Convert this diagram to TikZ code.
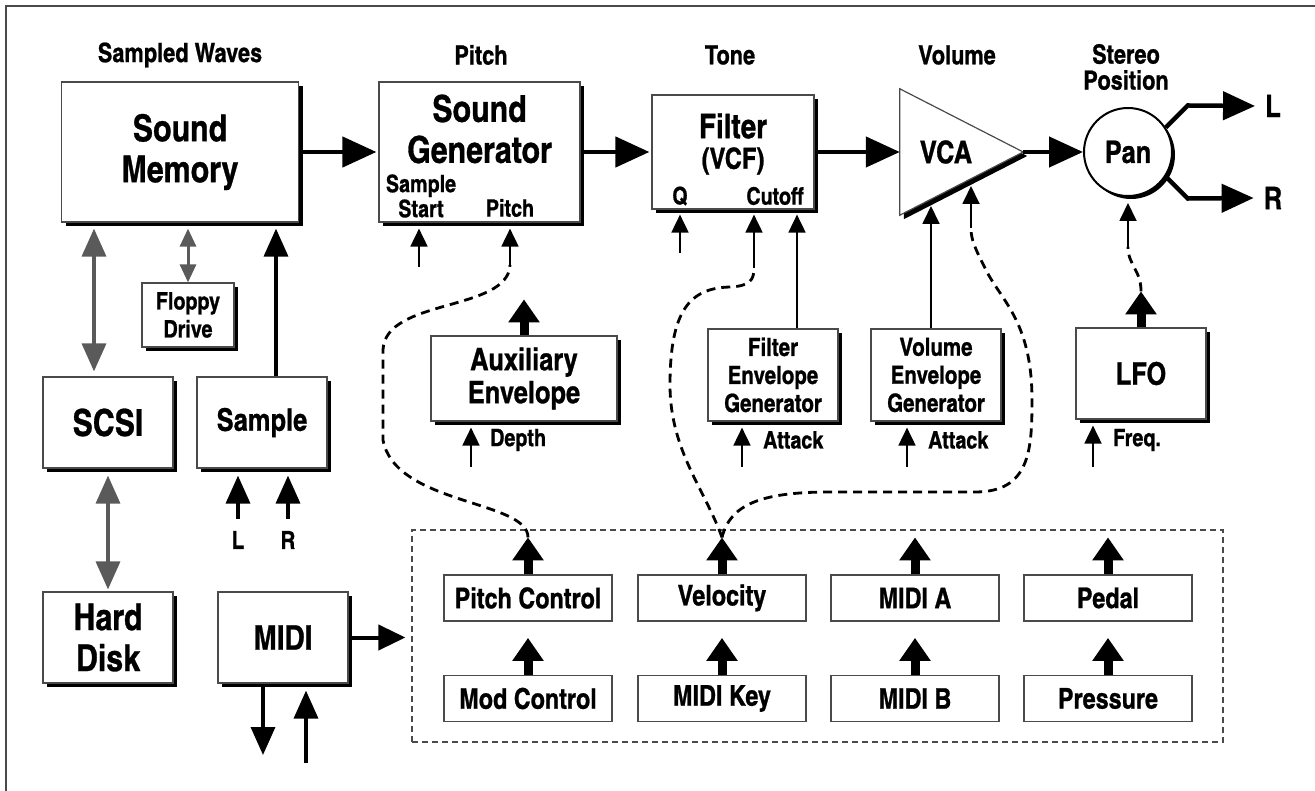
\documentclass[tikz,border=0pt]{standalone}
\usepackage{fontspec}
\newfontfamily\cnfont[FakeBold=0.8]{texgyreheroscn-bold.otf}
\usepackage{tikz}
\usetikzlibrary{arrows.meta,positioning,calc,shadows}
\definecolor{edge}{HTML}{4A4A4A}
\definecolor{linkgray}{HTML}{5A5A5A}
\newcommand{\szA}{\cnfont\fontsize{37}{41}\selectfont}
\newcommand{\szB}{\cnfont\fontsize{34}{35}\selectfont}
\newcommand{\szC}{\cnfont\fontsize{31}{33}\selectfont}
\newcommand{\szD}{\cnfont\fontsize{28.5}{30}\selectfont}
\newcommand{\szF}{\cnfont\fontsize{25}{28}\selectfont}
\newcommand{\szE}{\cnfont\fontsize{24}{25}\selectfont}
\newcommand{\szH}{\cnfont\fontsize{26.5}{26}\selectfont}
\tikzset{
  block/.style={draw=edge,line width=1.2pt,fill=white,align=center,inner sep=0pt,
    drop shadow={shadow xshift=4pt,shadow yshift=-4pt,fill=black,opacity=1}},
  ctrlbox/.style={draw=edge,line width=1.2pt,fill=white,align=center,inner sep=0pt,
    minimum width=168pt,minimum height=46pt,font=\szD},
  tag/.style={font=\szE,inner sep=0pt,align=center},
  head/.style={font=\szH,inner sep=0pt,align=center},
  sig/.style={-{Triangle[length=34pt,width=30pt]},line width=4.5pt},
  outarr/.style={-{Triangle[length=32pt,width=28pt]},line width=4.5pt},
  ctl/.style={-{Triangle[length=18pt,width=17pt]},line width=1.8pt},
  medarr/.style={-{Triangle[length=28pt,width=24pt]},line width=3.5pt},
  graylink/.style={{Triangle[length=28pt,width=24pt]}-{Triangle[length=28pt,width=24pt]},line width=3.5pt,draw=linkgray,fill=linkgray},
  floplink/.style={{Triangle[length=18pt,width=16pt]}-{Triangle[length=18pt,width=16pt]},line width=3pt,draw=linkgray,fill=linkgray},
  fat/.style={-{Triangle[length=23pt,width=30pt]},line width=9pt},
  modline/.style={line width=2.8pt,dash pattern=on 9pt off 6pt},
}

\begin{document}
\begin{tikzpicture}[x=1pt,y=-1pt]
  \useasboundingbox (0,0) rectangle (1315,791);
  \draw[edge,line width=1.5pt] (6,791) -- (6,6) -- (1315,6);

  % headings
  \node[head] (hwave) at (180,55) {Sampled Waves};
  \node[head] (hpitch) at (481,55) {Pitch};
  \node[head] (htone) at (730,55) {Tone};
  \node[head] (hvol) at (957,55) {Volume};
  \node[head] (hpos) at (1126,67) {Stereo\\Position};

  % main signal path
  \node[block,minimum width=237pt,minimum height=140pt,font=\szA] (mem) at (180,152) {Sound\\Memory};
  \node[block,minimum width=201pt,minimum height=140pt] (gen) at (479.5,152) {};
  \node[font=\szA,align=center] (genT) at (479.5,129) {Sound\\Generator};
  \node[tag] (genS) at (421,196) {Sample\\Start};
  \node[tag] (genP) at (510,208) {Pitch};
  \node[block,minimum width=162pt,minimum height=114pt] (filt) at (733,152) {};
  \node[font=\szB,align=center] (filtT) at (733,126) {Filter};
  \node[font=\cnfont\fontsize{29}{30}\selectfont] (filtV) at (733,161) {(VCF)};
  \node[tag] (filtQ) at (680,196) {Q};
  \node[tag] (filtC) at (775,196) {Cutoff};
  \node[inner sep=0pt,minimum width=123pt,minimum height=126pt] (vca) at (961.5,152) {};
  \draw[edge,line width=1.2pt,fill=white,drop shadow={shadow xshift=4pt,shadow yshift=-4pt,fill=black,opacity=1}]
    (vca.north west) -- (vca.east) -- (vca.south west) -- cycle;
  \node[font=\szC] (vcaT) at (946,152) {VCA};
  \node[circle,draw=black,line width=2pt,fill=white,minimum size=88pt,inner sep=0pt,font=\szC,
    drop shadow={shadow xshift=3pt,shadow yshift=-3pt,fill=black,opacity=1}] (pan) at (1128,152) {Pan};
  \node[font=\szC,inner sep=0pt] (outL) at (1273,106) {L};
  \node[font=\szC,inner sep=0pt] (outR) at (1273,198) {R};

  \draw[sig,shorten >=2pt] (mem.east) -- (gen.west);
  \draw[sig,shorten >=2pt] (gen.east) -- (filt.west);
  \draw[sig] (filt.east) -- (vca.west);
  \draw[sig] (vca.east) -- (pan.west);
  \draw[outarr] (pan.33) -- ++(22,-22) -- ([xshift=-10pt]outL.west);
  \draw[outarr] (pan.-33) -- ++(22,22) -- ([xshift=-10pt]outR.west);

  % storage and sampling
  \node[block,minimum width=92pt,minimum height=64pt,font=\cnfont\fontsize{24}{28}\selectfont] (floppy) at (188,315) {Floppy\\Drive};
  \node[block,minimum width=130pt,minimum height=91pt,font=\szA] (scsi) at (108,422.5) {SCSI};
  \node[block,minimum width=130pt,minimum height=91pt,font=\szC] (sample) at (262,422.5) {Sample};
  \node[block,minimum width=130pt,minimum height=91pt,font=\szA] (hd) at (108,637.5) {Hard\\Disk};
  \node[block,minimum width=130pt,minimum height=91pt,font=\szB] (midi) at (283,637.5) {MIDI};
  \node[font=\szF,inner sep=0pt] (sL) at (238,540) {L};
  \node[font=\szF,inner sep=0pt] (sR) at (288,540) {R};

  \draw[graylink,shorten <=5pt,shorten >=6pt] ([xshift=-14pt]scsi.north) -- ([xshift=-14pt]scsi.north |- mem.south);
  \draw[floplink,shorten >=6pt] (floppy.north) -- (floppy.north |- mem.south);
  \draw[medarr,shorten >=6pt] ([xshift=14pt]sample.north) -- ([xshift=14pt]sample.north |- mem.south);
  \draw[graylink,shorten <=7pt,shorten >=2pt] (scsi.south) -- (hd.north);
  \draw[medarr,shorten >=7pt] ([yshift=12pt]sL.north) -- (sL.north |- sample.south);
  \draw[medarr,shorten >=7pt] ([yshift=12pt]sR.north) -- (sR.north |- sample.south);
  \coordinate (midiOut) at (263,755);
  \coordinate (midiIn) at (306,763);
  \draw[medarr] (midiOut |- midi.south) -- (midiOut);
  \draw[medarr,shorten >=7pt] (midiIn) -- (midiIn |- midi.south);

  % modulation sources
  \node[draw=edge,dashed,dash pattern=on 6pt off 4pt,line width=1.2pt,minimum width=811pt,minimum height=212pt,inner sep=0pt] (ctrl) at (817.5,636) {};
  \node[ctrlbox] (pitchctl) at (528,598) {Pitch Control};
  \node[ctrlbox] (modctl) at (528,698.5) {Mod Control};
  \node[ctrlbox] (velo) at (722,598) {Velocity};
  \node[ctrlbox] (midikey) at (722,698.5) {MIDI Key};
  \node[ctrlbox] (midia) at (915,598) {MIDI A};
  \node[ctrlbox] (midib) at (915,698.5) {MIDI B};
  \node[ctrlbox] (pedal) at (1108,598) {Pedal};
  \node[ctrlbox] (pressure) at (1108,698.5) {Pressure};
  \foreach \k in {pitchctl,modctl,velo,midikey,midia,midib,pedal,pressure}
    \draw[fat] (\k.north) -- ++(0,-37);
  \draw[-{Triangle[length=27pt,width=25pt]},line width=4pt,shorten >=6pt] (midi.east) -- (midi.east -| ctrl.west);

  % envelopes and LFO
  \node[block,minimum width=186pt,minimum height=85pt,font=\szC] (aux) at (524,378.5) {Auxiliary\\Envelope};
  \node[block,minimum width=130pt,minimum height=92pt,font=\szF] (fenv) at (773,375) {Filter\\Envelope\\Generator};
  \node[block,minimum width=130pt,minimum height=92pt,font=\szF] (venv) at (936,375) {Volume\\Envelope\\Generator};
  \node[block,minimum width=130pt,minimum height=91pt,font=\szC] (lfo) at (1141,373.5) {LFO};
  \node[tag,anchor=west] (depth) at (490,440) {Depth};
  \node[tag,anchor=west] (fatk) at (763,440) {Attack};
  \node[tag,anchor=west] (vatk) at (928,440) {Attack};
  \node[tag,anchor=west] (freq) at (1113,440) {Freq.};

  \coordinate (depthIn) at (471,467);
  \coordinate (fatkIn) at (742,467);
  \coordinate (vatkIn) at (907,467);
  \coordinate (freqIn) at (1093,467);
  \coordinate (startIn) at (419,267);
  \coordinate (qIn) at (680,253);
  \draw[fat] (aux.north) -- ++(0,-36);
  \draw[ctl,shorten >=6pt] (depthIn) -- (depthIn |- aux.south);
  \draw[ctl,shorten >=6pt] (fatkIn) -- (fatkIn |- fenv.south);
  \draw[ctl,shorten >=6pt] (vatkIn) -- (vatkIn |- venv.south);
  \draw[ctl,shorten >=6pt] (freqIn) -- (freqIn |- lfo.south);

  % control inputs
  \draw[ctl,shorten >=6pt] (startIn) -- (startIn |- gen.south);
  \draw[ctl,shorten >=5pt] (qIn) -- (qIn |- filt.south);
  \draw[ctl,shorten >=5pt] ([xshift=24pt]fenv.north) -- ([xshift=24pt]fenv.north |- filt.south);
  \coordinate (vcaA) at (931,206);
  \coordinate (vcaB) at (971,186);
  \draw[ctl] ([xshift=-5pt]venv.north) -- (vcaA);

  % dashed routings
  \coordinate (pcTip) at ($(pitchctl.north)+(0,-37)$);
  \coordinate (velTip) at ($(velo.north)+(0,-37)$);
  \coordinate (lfoTip) at ($(lfo.north)+(0,-36)$);
  \draw[modline] (pcTip) .. controls (528,500) and (395,505) .. (383,440) -- (383,350)
    .. controls (385,298) and (508,312) .. (510,265) coordinate (pitchIn);
  \draw[ctl,shorten >=6pt] (pitchIn) -- (pitchIn |- gen.south);
  \draw[modline] (velTip) .. controls (705,490) and (670,450) .. (670,385)
    .. controls (670,310) and (690,288) .. (730,287) .. controls (750,286) and (754,280) .. (754,268) coordinate (cutIn);
  \draw[ctl,shorten >=5pt] (cutIn) -- (cutIn |- filt.south);
  \draw[modline] (velTip) .. controls (730,505) and (760,492) .. (830,492) -- (975,492)
    .. controls (1030,492) and (1032,450) .. (1032,400) .. controls (1032,320) and (1000,300) .. (985,268)
    .. controls (975,248) and (971,240) .. (971,228) coordinate (vcaIn);
  \draw[ctl] (vcaIn) -- (vcaB);
  \draw[fat] (lfo.north) -- (lfoTip);
  \draw[modline] (lfoTip) .. controls (1141,270) and (1128,265) .. (1128,247) coordinate (panIn);
  \draw[ctl,shorten >=6pt] (panIn) -- (pan.south);
\end{tikzpicture}
\end{document}
